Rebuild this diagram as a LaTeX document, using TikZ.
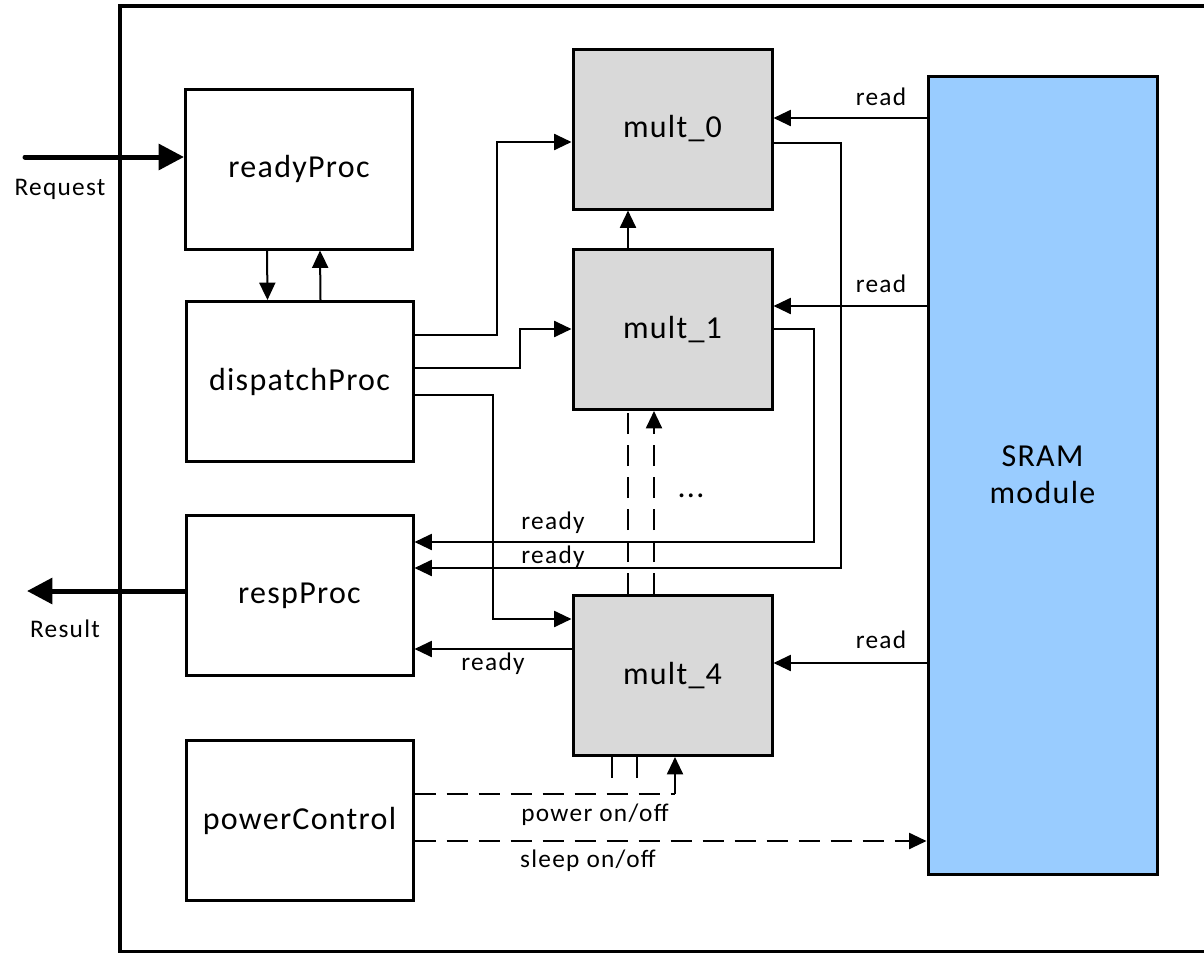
\documentclass[tikz,border=0pt]{standalone}
\usepackage{fontspec}
\setmainfont{Carlito}
\newfontfamily\blockfont[LetterSpace=4]{Carlito}
\newfontfamily\tagfont[LetterSpace=5]{Carlito}
\usetikzlibrary{arrows.meta,calc}
\definecolor{multgray}{HTML}{D9D9D9}
\definecolor{sramblue}{HTML}{99CCFF}
\begin{document}
\begin{tikzpicture}[x=0.75pt,y=-0.75pt,
  box/.style={draw, line width=2.25pt, minimum width=170.25pt, minimum height=120pt,
    inner sep=0pt, font=\blockfont\fontsize{24}{28}\selectfont},
  multbox/.style={box, fill=multgray, minimum width=149.25pt},
  link/.style={line width=1.5pt},
  tip/.style={-{Triangle[length=13pt,width=12pt]}},
  arr/.style={link, tip},
  dashline/.style={link, dash pattern=on 16pt off 8pt},
  bigarr/.style={line width=3.75pt, line cap=round, -{Triangle[length=19pt,width=19pt]}},
  lbl/.style={font=\tagfont\fontsize{19}{22}\selectfont, inner sep=0pt}]
\useasboundingbox (0,0) rectangle (1204,953);

% enclosing frame (runs off to the right)
\draw[line width=2.5pt] (1300,6) -- (120,6) -- (120,952) -- (1300,952);

% process blocks
\node[box] (ready)    at (299,169)   {readyProc};
\node[box] (dispatch) at (299.5,381.5) {dispatchProc};
\node[box] (resp)     at (299.5,595.5) {respProc};
\node[box] (power)    at (299.5,820.5) {powerControl};

% multipliers
\node[multbox] (m0) at (672.5,129)   {mult\_0};
\node[multbox] (m1) at (672.5,329.5) {mult\_1};
\node[multbox] (m4) at (672.5,675.5) {mult\_4};

% memory
\node[box, fill=sramblue, minimum width=171.75pt, minimum height=598.5pt, align=center]
  (sram) at (1042.5,475) {SRAM\\module};

% external request / result
\coordinate (reqstart) at (25,157);
\coordinate (resend)   at (27,591);
\draw[bigarr] (reqstart) -- (ready.west |- reqstart);
\draw[bigarr] (resp.west |- resend) -- (resend);
\node[lbl] (reqlbl) at (60,189) {Request};
\node[lbl] (reslbl) at (65,629) {Result};

% readyProc <-> dispatchProc
\draw[arr] ($(ready.south)+(-32,0)$) -- ($(dispatch.north)+(-32,0)$);
\draw[arr] ($(dispatch.north)+(21,0)$) -- ($(ready.south)+(21,0)$);

% mult_1 -> mult_0
\draw[arr] ($(m1.north)+(-44.5,0)$) -- ($(m0.south)+(-44.5,0)$);

% dispatchProc -> multipliers
\coordinate (d0a) at (497,335); \coordinate (d0b) at (497,142);
\coordinate (d1a) at (520,368); \coordinate (d1b) at (520,329);
\coordinate (d4a) at (493,395); \coordinate (d4b) at (493,619);
\draw[arr] (dispatch.east |- d0a) -- (d0a) |- (m0.west |- d0b);
\draw[arr] (dispatch.east |- d1a) -- (d1a) |- (m1.west |- d1b);
\draw[arr] (dispatch.east |- d4a) -- (d4a) |- (m4.west |- d4b);

% SRAM reads
\coordinate (rd0) at (0,118); \coordinate (rd1) at (0,306); \coordinate (rd4) at (0,663);
\draw[arr] (sram.west |- rd0) -- (m0.east |- rd0);
\draw[arr] (sram.west |- rd1) -- (m1.east |- rd1);
\draw[arr] (sram.west |- rd4) -- (m4.east |- rd4);
\node[lbl] (rl0) at (881,97)  {read};
\node[lbl] (rl1) at (881,284) {read};
\node[lbl] (rl4) at (881,640) {read};

% ready signals back to respProc
\coordinate (q0a) at (841,143); \coordinate (q0b) at (841,568);
\coordinate (q1a) at (814,329); \coordinate (q1b) at (814,542);
\coordinate (q4)  at (0,649);
\draw[arr] (m0.east |- q0a) -- (q0a) -- (q0b) -- (resp.east |- q0b);
\draw[arr] (m1.east |- q1a) -- (q1a) -- (q1b) -- (resp.east |- q1b);
\draw[arr] (m4.west |- q4) -- (resp.east |- q4);
\node[lbl] (yl1) at (553,523) {ready};
\node[lbl] (yl0) at (553,557) {ready};
\node[lbl] (yl4) at (493,664) {ready};

% chain between mult_1 and mult_4
\draw[dashline] ($(m4.north)+(-44.5,0)$) -- ($(m1.south)+(-44.5,0)$);
\draw[dashline, tip] ($(m4.north)+(-18.5,0)$) -- ($(m1.south)+(-18.5,0)$);
\node[font=\blockfont\fontsize{24}{28}\selectfont, inner sep=0pt] (dots) at (691,496) {...};

% power and sleep control
\coordinate (pw)  at (675,794);
\coordinate (slp) at (0,841);
\draw[dashline] (power.east |- pw) -- (pw);
\draw[arr] (pw) -- (m4.south -| pw);
\draw[dashline] ($(m4.south)+(-60.5,0)$) -- ++(0,26);
\draw[dashline] ($(m4.south)+(-35.5,0)$) -- ++(0,26);
\draw[dashline, tip] (power.east |- slp) -- (sram.west |- slp);
\node[lbl] (pwl) at (595,815) {power on/off};
\node[lbl] (spl) at (588,861) {sleep on/off};
\end{tikzpicture}
\end{document}
